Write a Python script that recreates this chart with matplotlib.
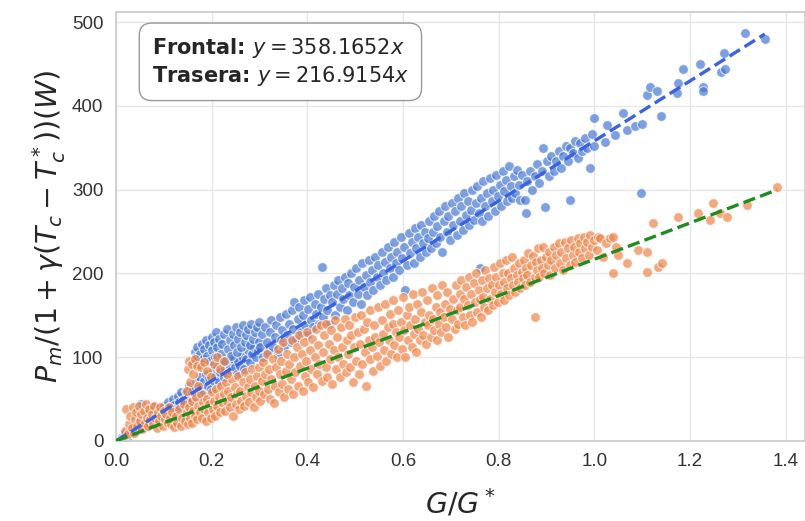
"""
Potencia normalizada vs irradiancia relativa: cara frontal y trasera.
"""

import matplotlib
matplotlib.use('Agg')
import matplotlib.pyplot as plt
import seaborn as sns
import numpy as np

# --- Datos: pares (G/G*, potencia normalizada) ---

frontal_pts = [
    # x < 0.16
    (0.012, 5), (0.02, 10), (0.025, 6), (0.03, 14), (0.032, 9), (0.04, 18), (0.042, 12),
    (0.048, 22), (0.05, 15), (0.052, 44), (0.058, 24), (0.06, 17), (0.065, 30), (0.068, 22),
    (0.072, 36), (0.075, 26), (0.078, 40), (0.082, 29), (0.085, 34), (0.088, 24), (0.092, 38),
    (0.095, 31), (0.1, 42), (0.1, 33), (0.104, 37), (0.108, 46), (0.112, 40), (0.116, 35),
    (0.12, 50), (0.122, 43), (0.126, 38), (0.13, 54), (0.132, 46), (0.136, 58), (0.14, 49),
    (0.142, 44), (0.146, 60), (0.15, 52), (0.152, 66), (0.155, 47), (0.158, 58),
    # 0.16 - 0.30, sobre la recta
    (0.162, 62), (0.165, 52), (0.168, 70), (0.172, 60), (0.175, 76), (0.178, 64), (0.182, 56),
    (0.185, 72), (0.188, 80), (0.192, 66), (0.195, 75), (0.198, 62), (0.202, 84), (0.205, 72),
    (0.208, 78), (0.212, 90), (0.215, 70), (0.218, 82), (0.222, 94), (0.225, 76), (0.228, 86),
    (0.232, 80), (0.236, 92), (0.24, 84), (0.244, 98), (0.248, 88), (0.252, 80), (0.256, 96),
    (0.26, 90), (0.264, 102), (0.268, 86), (0.272, 98), (0.276, 108), (0.28, 94), (0.284, 104),
    (0.288, 112), (0.292, 100), (0.296, 108),
    # 0.16 - 0.30, grupo superior
    (0.162, 96), (0.165, 106), (0.168, 100), (0.17, 112), (0.174, 92), (0.176, 104), (0.18, 116),
    (0.182, 98), (0.185, 110), (0.188, 120), (0.19, 102), (0.194, 114), (0.196, 96), (0.2, 124),
    (0.2, 108), (0.204, 118), (0.208, 100), (0.21, 130), (0.212, 112), (0.216, 122), (0.22, 104),
    (0.222, 116), (0.226, 128), (0.228, 96), (0.232, 134), (0.234, 110), (0.238, 120),
    (0.24, 102), (0.244, 128), (0.246, 114), (0.25, 136), (0.252, 106), (0.256, 122), (0.26, 130),
    (0.262, 112), (0.266, 138), (0.27, 118), (0.272, 126), (0.276, 134), (0.28, 114), (0.282, 140),
    (0.286, 122), (0.29, 130), (0.294, 136), (0.298, 118), (0.3, 142),
    # 0.30 - 0.45
    (0.302, 112), (0.305, 128), (0.308, 100), (0.312, 136), (0.315, 118), (0.318, 106),
    (0.322, 130), (0.325, 144), (0.328, 112), (0.332, 124), (0.335, 138), (0.338, 104),
    (0.342, 148), (0.345, 120), (0.348, 132), (0.352, 112), (0.355, 152), (0.358, 126),
    (0.362, 140), (0.365, 118), (0.368, 156), (0.37, 134), (0.372, 166), (0.376, 122),
    (0.38, 146), (0.382, 160), (0.386, 130), (0.39, 150), (0.392, 168), (0.396, 138), (0.4, 126),
    (0.402, 158), (0.405, 172), (0.408, 144), (0.412, 136), (0.415, 164), (0.418, 152),
    (0.422, 176), (0.425, 140), (0.428, 160), (0.43, 208), (0.432, 148), (0.435, 170),
    (0.438, 182), (0.442, 156), (0.445, 140), (0.448, 174),
    # 0.45 - 0.65
    (0.452, 166), (0.455, 186), (0.458, 150), (0.462, 176), (0.465, 192), (0.468, 160),
    (0.472, 182), (0.475, 170), (0.478, 196), (0.482, 156), (0.485, 188), (0.488, 174),
    (0.492, 200), (0.495, 166), (0.498, 184), (0.502, 206), (0.505, 176), (0.508, 192),
    (0.512, 164), (0.515, 212), (0.518, 184), (0.522, 198), (0.525, 174), (0.528, 216),
    (0.532, 190), (0.535, 204), (0.538, 180), (0.542, 220), (0.545, 196), (0.548, 210),
    (0.552, 186), (0.555, 226), (0.558, 200), (0.562, 214), (0.565, 192), (0.568, 232),
    (0.572, 206), (0.575, 220), (0.578, 196), (0.582, 238), (0.585, 212), (0.588, 226),
    (0.592, 204), (0.595, 244), (0.598, 218), (0.602, 232), (0.605, 180), (0.608, 210),
    (0.612, 248), (0.615, 224), (0.618, 238), (0.622, 212), (0.625, 254), (0.628, 230),
    (0.632, 244), (0.635, 220), (0.638, 258), (0.642, 236), (0.645, 250), (0.648, 226),
    # 0.65 - 0.85
    (0.652, 242), (0.655, 262), (0.658, 230), (0.662, 250), (0.665, 268), (0.668, 236),
    (0.672, 256), (0.675, 274), (0.678, 244), (0.682, 226), (0.685, 262), (0.688, 280),
    (0.692, 250), (0.695, 268), (0.698, 240), (0.702, 284), (0.705, 258), (0.708, 274),
    (0.712, 246), (0.715, 290), (0.718, 262), (0.722, 280), (0.725, 252), (0.728, 296),
    (0.732, 270), (0.735, 286), (0.738, 258), (0.742, 276), (0.745, 300), (0.748, 264),
    (0.752, 284), (0.755, 304), (0.758, 272), (0.76, 206), (0.762, 290), (0.765, 262),
    (0.768, 310), (0.772, 280), (0.775, 296), (0.778, 268), (0.782, 314), (0.785, 286),
    (0.788, 300), (0.792, 274), (0.795, 318), (0.798, 292), (0.802, 306), (0.805, 280),
    (0.808, 322), (0.812, 298), (0.815, 312), (0.818, 286), (0.822, 328), (0.825, 304),
    (0.828, 290), (0.832, 316), (0.835, 296), (0.838, 324), (0.842, 306), (0.845, 288),
    (0.848, 318),
    # 0.85 - 1.00
    (0.855, 288), (0.858, 272), (0.86, 310), (0.865, 322), (0.87, 300), (0.875, 316), (0.88, 330),
    (0.885, 308), (0.89, 322), (0.892, 350), (0.896, 279), (0.9, 334), (0.905, 316), (0.91, 340),
    (0.915, 322), (0.92, 334), (0.925, 346), (0.93, 326), (0.935, 340), (0.94, 352), (0.945, 334),
    (0.949, 350), (0.949, 288), (0.955, 344), (0.96, 358), (0.965, 338), (0.97, 356), (0.975, 346),
    (0.98, 362), (0.985, 350), (0.99, 326), (0.995, 366), (1.0, 385), (1.0, 352),
    # x > 1
    (1.022, 357), (1.026, 377), (1.043, 365), (1.06, 391), (1.067, 371), (1.084, 376),
    (1.097, 296), (1.099, 378), (1.11, 413), (1.116, 422), (1.13, 418), (1.14, 388), (1.172, 415),
    (1.175, 427), (1.185, 444), (1.22, 450), (1.227, 422), (1.226, 418), (1.264, 440),
    (1.272, 444), (1.27, 463), (1.314, 487), (1.356, 480),
]

trasera_pts = [
    # x < 0.12
    (0.015, 4), (0.02, 12), (0.022, 38), (0.025, 8), (0.028, 20), (0.03, 30), (0.033, 16),
    (0.035, 40), (0.038, 10), (0.04, 26), (0.042, 34), (0.045, 18), (0.048, 42), (0.05, 24),
    (0.052, 32), (0.055, 14), (0.058, 36), (0.06, 22), (0.062, 44), (0.065, 28), (0.068, 18),
    (0.07, 38), (0.072, 26), (0.075, 32), (0.078, 20), (0.08, 42), (0.082, 28), (0.085, 16),
    (0.088, 34), (0.09, 24), (0.092, 40), (0.095, 30), (0.098, 18), (0.1, 36), (0.102, 26),
    (0.105, 32), (0.108, 22), (0.11, 40), (0.112, 28), (0.115, 20), (0.118, 34),
    # 0.12 - 0.30
    (0.122, 17), (0.125, 30), (0.128, 22), (0.132, 38), (0.135, 18), (0.138, 28), (0.142, 44),
    (0.145, 24), (0.148, 34), (0.15, 20), (0.152, 40), (0.155, 28), (0.158, 48), (0.16, 22),
    (0.162, 36), (0.165, 30), (0.168, 52), (0.17, 26), (0.172, 42), (0.175, 34), (0.178, 56),
    (0.18, 28), (0.182, 46), (0.185, 38), (0.188, 24), (0.19, 50), (0.192, 34), (0.195, 44),
    (0.198, 28), (0.2, 58), (0.202, 38), (0.205, 48), (0.208, 30), (0.21, 62), (0.212, 42),
    (0.215, 52), (0.218, 34), (0.22, 66), (0.222, 46), (0.225, 56), (0.228, 36), (0.23, 70),
    (0.232, 48), (0.235, 60), (0.238, 40), (0.24, 52), (0.242, 74), (0.245, 30), (0.248, 64),
    (0.25, 44), (0.252, 56), (0.255, 78), (0.258, 38), (0.26, 60), (0.262, 48), (0.265, 70),
    (0.268, 42), (0.27, 82), (0.272, 54), (0.275, 64), (0.278, 46), (0.28, 74), (0.282, 58),
    (0.285, 86), (0.288, 40), (0.29, 66), (0.292, 52), (0.295, 78), (0.298, 60), (0.3, 88),
    # grupo alto 0.15 - 0.23
    (0.148, 60), (0.15, 86), (0.152, 96), (0.155, 70), (0.158, 92), (0.162, 80), (0.165, 98),
    (0.17, 90), (0.172, 66), (0.178, 88), (0.185, 94), (0.19, 84), (0.198, 76), (0.205, 92),
    (0.212, 100), (0.218, 86), (0.225, 96), (0.232, 80),
    # 0.30 - 0.50
    (0.302, 48), (0.305, 72), (0.308, 94), (0.31, 56), (0.312, 80), (0.315, 104), (0.318, 62),
    (0.32, 86), (0.322, 50), (0.325, 74), (0.328, 98), (0.33, 45), (0.332, 66), (0.335, 88),
    (0.338, 110), (0.34, 58), (0.342, 80), (0.345, 96), (0.348, 68), (0.35, 118), (0.352, 52),
    (0.355, 84), (0.358, 104), (0.36, 62), (0.362, 92), (0.365, 74), (0.368, 120), (0.37, 56),
    (0.372, 100), (0.375, 82), (0.378, 112), (0.38, 66), (0.382, 126), (0.385, 90), (0.388, 104),
    (0.39, 60), (0.392, 118), (0.395, 78), (0.398, 96), (0.4, 130), (0.402, 70), (0.405, 108),
    (0.408, 86), (0.41, 122), (0.412, 64), (0.415, 100), (0.418, 134), (0.42, 80), (0.422, 114),
    (0.425, 92), (0.428, 138), (0.43, 72), (0.432, 106), (0.435, 126), (0.438, 88), (0.44, 140),
    (0.442, 76), (0.445, 116), (0.448, 98), (0.45, 132), (0.452, 68), (0.455, 108), (0.458, 144),
    (0.46, 86), (0.462, 124), (0.465, 100), (0.468, 76), (0.47, 136), (0.472, 112), (0.475, 92),
    (0.478, 146), (0.48, 82), (0.482, 120), (0.485, 104), (0.488, 138), (0.49, 88), (0.492, 126),
    (0.495, 70), (0.498, 112), (0.5, 148),
    # 0.50 - 0.70
    (0.502, 96), (0.505, 130), (0.508, 80), (0.51, 116), (0.512, 150), (0.515, 92), (0.518, 134),
    (0.52, 106), (0.522, 66), (0.525, 142), (0.528, 120), (0.53, 98), (0.532, 156), (0.535, 112),
    (0.538, 84), (0.54, 138), (0.542, 124), (0.545, 102), (0.548, 160), (0.55, 118), (0.552, 90),
    (0.555, 144), (0.558, 128), (0.56, 108), (0.562, 164), (0.565, 96), (0.568, 136), (0.57, 120),
    (0.572, 152), (0.575, 104), (0.578, 140), (0.58, 168), (0.582, 114), (0.585, 130),
    (0.588, 100), (0.59, 156), (0.592, 124), (0.595, 142), (0.598, 110), (0.6, 172), (0.602, 132),
    (0.605, 100), (0.608, 150), (0.61, 120), (0.612, 160), (0.615, 138), (0.618, 112),
    (0.62, 176), (0.622, 128), (0.625, 146), (0.628, 106), (0.63, 164), (0.632, 134), (0.635, 120),
    (0.638, 154), (0.64, 178), (0.642, 126), (0.645, 142), (0.648, 116), (0.65, 168),
    (0.652, 138), (0.655, 150), (0.658, 124), (0.66, 182), (0.662, 146), (0.665, 132),
    (0.668, 160), (0.67, 120), (0.672, 174), (0.675, 140), (0.678, 154), (0.68, 130), (0.682, 186),
    (0.685, 148), (0.688, 164), (0.69, 136), (0.692, 178), (0.695, 124), (0.698, 158),
    # 0.70 - 0.90
    (0.702, 146), (0.705, 170), (0.708, 134), (0.71, 186), (0.712, 156), (0.715, 140),
    (0.718, 176), (0.72, 160), (0.722, 192), (0.725, 148), (0.728, 170), (0.73, 138), (0.732, 184),
    (0.735, 162), (0.738, 196), (0.74, 150), (0.742, 176), (0.745, 142), (0.748, 188), (0.75, 166),
    (0.752, 200), (0.755, 154), (0.758, 180), (0.76, 170), (0.762, 148), (0.765, 192),
    (0.768, 172), (0.77, 160), (0.772, 204), (0.775, 182), (0.778, 156), (0.78, 194), (0.782, 170),
    (0.785, 186), (0.788, 162), (0.79, 208), (0.792, 178), (0.795, 196), (0.798, 166), (0.8, 186),
    (0.802, 212), (0.805, 176), (0.808, 200), (0.81, 168), (0.812, 190), (0.815, 216),
    (0.818, 182), (0.82, 200), (0.822, 174), (0.825, 194), (0.828, 220), (0.83, 186), (0.832, 206),
    (0.835, 178), (0.838, 198), (0.84, 190), (0.842, 212), (0.845, 182), (0.848, 202), (0.85, 194),
    (0.852, 216), (0.855, 186), (0.858, 206), (0.86, 198), (0.862, 224), (0.865, 190),
    (0.868, 210), (0.871, 221), (0.875, 148), (0.875, 196), (0.878, 214), (0.88, 204),
    (0.882, 230), (0.885, 196), (0.888, 216), (0.89, 206), (0.892, 232), (0.895, 200), (0.898, 220),
    # 0.90 - 1.05
    (0.902, 210), (0.905, 226), (0.908, 198), (0.91, 216), (0.915, 232), (0.918, 206), (0.92, 222),
    (0.925, 236), (0.928, 212), (0.93, 226), (0.935, 204), (0.938, 238), (0.94, 218), (0.945, 230),
    (0.948, 210), (0.95, 240), (0.955, 222), (0.958, 232), (0.96, 214), (0.965, 242), (0.968, 226),
    (0.97, 236), (0.975, 218), (0.978, 244), (0.98, 230), (0.985, 238), (0.988, 222), (0.99, 246),
    (0.995, 232), (1.0, 240), (1.005, 228), (1.008, 244), (1.011, 242), (1.018, 220), (1.025, 236),
    (1.032, 242), (1.039, 243), (1.039, 200), (1.045, 232), (1.05, 222),
    # x > 1.05
    (1.067, 212), (1.09, 228), (1.109, 202), (1.109, 226), (1.122, 260), (1.133, 208),
    (1.141, 212), (1.174, 267), (1.216, 272), (1.241, 264), (1.248, 284), (1.262, 272),
    (1.278, 267), (1.318, 282), (1.381, 303),
]

frontal_x = [p[0] for p in frontal_pts]
frontal_y = [p[1] for p in frontal_pts]
trasera_x = [p[0] for p in trasera_pts]
trasera_y = [p[1] for p in trasera_pts]

# pendientes del ajuste lineal (sin intercepto)
slope_frontal = 358.1652
slope_trasera = 216.9154

# --- Estilo ---

sns.set_theme(style='whitegrid')
plt.rcParams['font.family'] = ['Liberation Sans', 'DejaVu Sans']
plt.rcParams['mathtext.fontset'] = 'dejavusans'

BLUE = '#4878d0'
ORANGE = '#ee854a'
LINE_BLUE = '#3b62e0'
LINE_GREEN = '#1f8c1f'

fig = plt.figure(figsize=(8.05, 5.21), dpi=100)
ax = fig.add_axes([0.144, 0.1536, 0.856, 0.8234])

ax.scatter(frontal_x, frontal_y, s=50, color=BLUE, alpha=0.7,
           edgecolor='white', linewidth=0.8, zorder=2)
ax.scatter(trasera_x, trasera_y, s=50, color=ORANGE, alpha=0.7,
           edgecolor='white', linewidth=0.8, zorder=2)

xf = np.array([0, max(frontal_x)])
xt = np.array([0, max(trasera_x)])
ax.plot(xf, slope_frontal * xf, '--', color=LINE_BLUE, linewidth=2.4, zorder=3)
ax.plot(xt, slope_trasera * xt, '--', color=LINE_GREEN, linewidth=2.4, zorder=3)

ax.set_xlim(0, 1.44)
ax.set_ylim(0, 512)
ax.set_xticks([0.0, 0.2, 0.4, 0.6, 0.8, 1.0, 1.2, 1.4])
ax.set_yticks([0, 100, 200, 300, 400, 500])
ax.tick_params(labelsize=13.5, colors='#333333', pad=3)

ax.set_xlabel(r'$G/G^*$', fontsize=20.5, labelpad=12)
ax.set_ylabel(r'$P_m/(1+\gamma(T_c-T_c^*))(W)$', fontsize=20.5, labelpad=3)

ax.grid(True, color='#e6e6e6', linewidth=1)
for spine in ax.spines.values():
    spine.set_color('#cccccc')

txt = 'Frontal: $y = 358.1652x$\nTrasera: $y = 216.9154x$'
ax.text(0.052, 0.945, txt, transform=ax.transAxes, fontsize=15,
        family='DejaVu Sans', fontweight='bold', va='top', ha='left',
        linespacing=1.25,
        bbox=dict(boxstyle='round,pad=0.6', facecolor='white',
                  edgecolor='#999999', linewidth=1))

fig.savefig('out.png', dpi=100)
